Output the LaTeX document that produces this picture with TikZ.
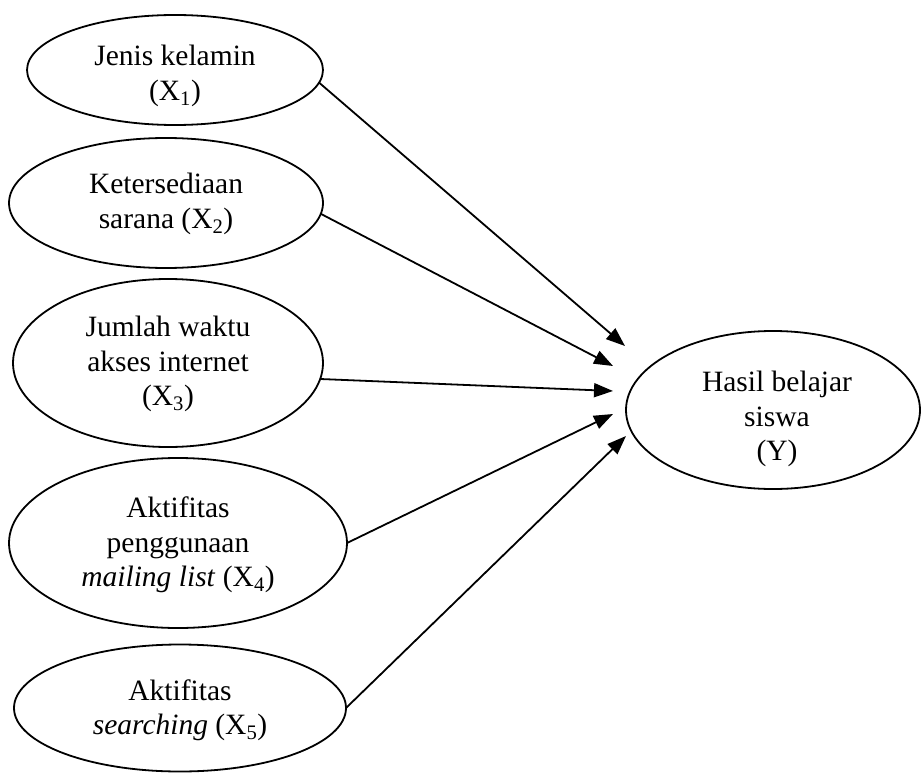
\documentclass[tikz,border=0pt]{standalone}
\usepackage{fontspec}
\setmainfont{Liberation Serif}
\usetikzlibrary{shapes.geometric,arrows.meta}
\begin{document}
\begin{tikzpicture}[x=1pt,y=-1pt,
  var/.style={ellipse,draw,line width=1.8pt,inner sep=0pt,outer sep=0pt},
  txt/.style={align=center,inner sep=0pt,font=\fontsize{29.5}{34.5}\selectfont},
  link/.style={line width=1.8pt,-{Triangle[length=19pt,width=14pt]}}]
\useasboundingbox (0,0) rectangle (923,773);
\node[var,minimum width=296pt,minimum height=110pt] (x1) at (175,70) {};
\node[txt] (x1t) at (175,76) {Jenis kelamin\\(X\textsubscript{1})};
\node[var,minimum width=314pt,minimum height=130pt] (x2) at (166,203) {};
\node[txt] (x2t) at (166,204) {Ketersediaan\\sarana (X\textsubscript{2})};
\node[var,minimum width=310pt,minimum height=168pt] (x3) at (168,363) {};
\node[txt] (x3t) at (168,364) {Jumlah waktu\\akses internet\\(X\textsubscript{3})};
\node[var,minimum width=338pt,minimum height=170pt] (x4) at (178,543) {};
\node[txt] (x4t) at (178,545) {Aktifitas\\penggunaan\\\textit{mailing list} (X\textsubscript{4})};
\node[var,minimum width=332pt,minimum height=127pt] (x5) at (180,708) {};
\node[txt] (x5t) at (180,710) {Aktifitas\\\textit{searching} (X\textsubscript{5})};
\node[var,minimum width=294pt,minimum height=158pt] (y) at (773,410) {};
\node[txt] (yt) at (777,419) {Hasil belajar\\siswa\\(Y)};
\coordinate (t1) at (625,346);
\coordinate (t2) at (613,366);
\coordinate (t3) at (613,391);
\coordinate (t4) at (613,414);
\coordinate (t5) at (626,436);
\draw[link] (x1.-5) -- (t1);
\draw[link] (x2.-4) -- (t2);
\draw[link] (x3.-6) -- (t3);
\draw[link] (x4.east) -- (t4);
\draw[link] (x5.east) -- (t5);
\end{tikzpicture}
\end{document}
